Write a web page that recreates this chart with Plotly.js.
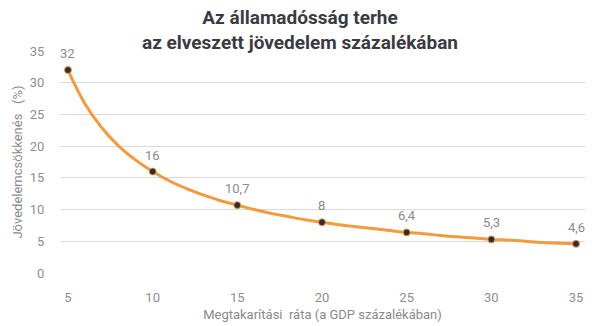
<!DOCTYPE html>
<html><head><meta charset="utf-8">
<script src="https://cdn.plot.ly/plotly-3.0.1.min.js"></script>
<style>html,body{margin:0;padding:0;background:#fff}#c{width:600px;height:326px}</style>
</head><body><div id="c"></div>
<script>
var rateX = [5,6,7,8,9,10,11,12,13,14,15,16,17,18,19,20,21,22,23,24,25,26,27,28,29,30,31,32,33,34,35];
var lossY = [32,26.7,22.9,20,17.8,16,14.5,13.3,12.3,11.4,10.7,10,9.4,8.9,8.4,8,7.6,7.3,7.0,6.7,6.4,6.2,5.9,5.7,5.5,5.3,5.2,5.0,4.8,4.7,4.6];
var markX = [5,10,15,20,25,30,35];
var markY = [32,16,10.7,8,6.4,5.3,4.6];
var markLabels = ["32","16","10,7","8","6,4","5,3","4,6"];
var titleText = "Az államadósság terhe<br>az elveszett jövedelem százalékában";
var xTitle = "Megtakarítási  ráta (a GDP százalékában)";
var yTitle = "Jövedelemcsökkenés   (%)";

var traces = [
  {x: rateX, y: lossY, mode: "lines", line: {color: "#f39a3c", width: 3, shape: "spline"}, hoverinfo: "none"},
  {x: markX, y: markY, mode: "markers",
   marker: {color: "#2b2f3a", size: 7, line: {color: "#f39a3c", width: 1}}, hoverinfo: "none"}
];
var annots = markX.map(function(x, i){
  return {x: x, y: markY[i], text: markLabels[i], showarrow: false, yanchor: "bottom", yshift: 7,
          font: {family: "Roboto, sans-serif", size: 13, color: "#8a8a8a"}};
});
var layout = {
  width: 600, height: 326,
  margin: {l: 60, r: 15, t: 51, b: 53},
  paper_bgcolor: "#fff", plot_bgcolor: "#fff",
  showlegend: false,
  font: {family: "Roboto, sans-serif", color: "#8a8a8a"},
  title: {text: titleText, x: 0.5, xanchor: "center", y: 0.925, yanchor: "middle",
          font: {family: "Roboto, sans-serif", size: 19, color: "#3a3b42", weight: "bold"}},
  annotations: annots,
  xaxis: {range: [4.53, 35.53], tickvals: [5,10,15,20,25,30,35], showgrid: false, zeroline: false,
          showline: false, ticks: "outside", ticklen: 12, tickcolor: "#fff", tickfont: {size: 13, color: "#8f8f8f"},
          title: {text: xTitle, font: {size: 13, color: "#8a8a8a"}, standoff: 6}},
  yaxis: {range: [0, 35], dtick: 5, showgrid: true, gridcolor: "#d9d9d9", gridwidth: 1, zeroline: false,
          showline: false, ticks: "outside", ticklen: 12, tickcolor: "#fff", tickfont: {size: 13, color: "#8f8f8f"},
          title: {text: yTitle, font: {size: 13, color: "#8a8a8a"}, standoff: 4}}
};
Plotly.newPlot("c", traces, layout, {displayModeBar: false, staticPlot: true});
</script></body></html>
